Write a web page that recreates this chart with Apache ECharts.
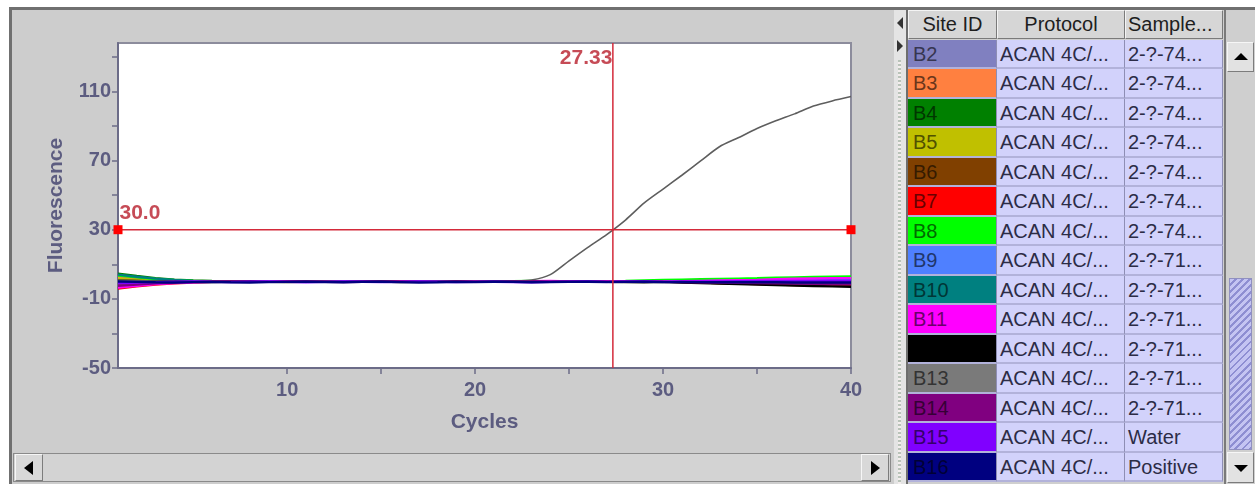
<!DOCTYPE html>
<html><head><meta charset="utf-8">
<script src="https://cdn.jsdelivr.net/npm/echarts@6/dist/echarts.min.js"></script>
<style>
html,body{margin:0;padding:0;background:#fff;width:1255px;height:484px;overflow:hidden;font-family:'Liberation Sans',Arial,sans-serif;}
#panel{position:absolute;left:9px;top:7px;width:885px;height:477px;background:#cdcdcd;border-left:3px solid #707070;border-top:3px solid #707070;box-sizing:border-box;}
#chart{position:absolute;left:0;top:0;width:894px;height:452px;}
#hscroll{position:absolute;left:13px;top:453px;width:878px;height:29px;background:#d3d3d3;border:1px solid #8a8a8a;box-sizing:border-box;}
.btn{position:absolute;background:#d8d8d8;border:1px solid;border-color:#f6f6f6 #7c7c7c #7c7c7c #f6f6f6;box-sizing:border-box;}
.tri{position:absolute;width:0;height:0;border-style:solid;}
#topline{position:absolute;left:894px;top:7px;width:361px;height:3px;background:#707070;}
#split{position:absolute;left:894px;top:10px;width:12px;height:474px;background:#e4e4e4;}
#dots{position:absolute;left:4px;top:50px;width:3px;height:424px;background:repeating-linear-gradient(to bottom,#b9c3b9 0 2px,#f4eeee 2px 4px);}
#table{position:absolute;left:906px;top:10px;width:318px;height:474px;background:#cfcfcf;border-left:2px solid #6e6e6e;box-sizing:border-box;}
.hdr{position:absolute;top:0;height:29px;background:#d6d6d6;border:1px solid;border-color:#f4f4f4 #7a7a7a #7a7a7a #f4f4f4;box-sizing:border-box;font-size:20px;line-height:27px;color:#1e1e1e;white-space:nowrap;overflow:hidden;}
.cell{position:absolute;height:29.5px;box-sizing:border-box;border-right:1px solid #8e8eb4;border-bottom:2px solid #b2b2da;font-size:20px;line-height:28px;white-space:nowrap;overflow:hidden;color:#2c2c46;background:#d2d2fb;}
#vscroll{position:absolute;left:1224px;top:10px;width:31px;height:474px;background:#cfcfcf;border-left:2px solid #7a7a7a;box-sizing:border-box;}
#thumb{position:absolute;left:3px;top:268px;width:23px;height:172px;background:repeating-linear-gradient(135deg,#c4c4f2 0 3px,#8e8ed2 3px 5px);border:1px solid #9090c0;box-sizing:border-box;}
</style>
</head>
<body>
<div id="panel"></div>
<div id="hscroll">
  <div class="btn" style="left:1px;top:0;width:28px;height:27px;"><div class="tri" style="left:8px;top:6px;border-width:7px 9px 7px 0;border-color:transparent #000 transparent transparent;"></div></div>
  <div class="btn" style="right:1px;top:0;width:28px;height:27px;"><div class="tri" style="left:9px;top:6px;border-width:7px 0 7px 9px;border-color:transparent transparent transparent #000;"></div></div>
</div>
<div id="chart"></div>
<div id="topline"></div>
<div id="split">
  <div class="tri" style="left:3px;top:7px;border-width:6px 6px 6px 0;border-color:transparent #333 transparent transparent;"></div>
  <div class="tri" style="left:3px;top:30px;border-width:6px 0 6px 6px;border-color:transparent transparent transparent #333;"></div>
  <div id="dots"></div>
</div>
<div id="table"></div>
<div id="vscroll">
  <div class="btn" style="left:1px;top:32px;width:27px;height:30px;background:#e2e2e2;"><div class="tri" style="left:6px;top:10px;border-width:0 7px 7px 7px;border-color:transparent transparent #000 transparent;"></div></div>
  <div id="thumb"></div>
  <div class="btn" style="left:1px;top:442px;width:27px;height:31px;background:#e2e2e2;"><div class="tri" style="left:6px;top:12px;border-width:7px 7px 0 7px;border-color:#000 transparent transparent transparent;"></div></div>
</div>
<script>
// ---------- data ----------
const cycles = [1,2,3,4,5,6,7,8,9,10,11,12,13,14,15,16,17,18,19,20,21,22,23,24,25,26,27,28,29,30,31,32,33,34,35,36,37,38,39,40];
const xTickValues = [10,15,20,25,30,35,40];
const xLabelValues = [10,20,30,40];
const yTickValues = [-50,-30,-10,10,30,50,70,90,110,130];
const yLabelValues = [-50,-10,30,70,110];
const threshold = 30.0;
const ctValue = 27.33;

const siteIds = ['B2','B3','B4','B5','B6','B7','B8','B9','B10','B11','B12','B13','B14','B15','B16'];
const protocols = ['ACAN 4C/...','ACAN 4C/...','ACAN 4C/...','ACAN 4C/...','ACAN 4C/...','ACAN 4C/...','ACAN 4C/...','ACAN 4C/...','ACAN 4C/...','ACAN 4C/...','ACAN 4C/...','ACAN 4C/...','ACAN 4C/...','ACAN 4C/...','ACAN 4C/...'];
const samples = ['2-?-74...','2-?-74...','2-?-74...','2-?-74...','2-?-74...','2-?-74...','2-?-74...','2-?-71...','2-?-71...','2-?-71...','2-?-71...','2-?-71...','2-?-71...','Water','Positive'];
const headers = ['Site ID','Protocol','Sample...'];

const b2  = [-1.5,-0.9,-0.4,-0.1,0.1,0.2,0.0,-0.1,0.1,0.2,0.0,-0.2,0.1,0.2,0.0,-0.1,0.1,0.0,-0.2,0.1,0.2,0.0,-0.1,0.1,0.2,0.0,-0.2,0.1,0.0,0.2,0.1,-0.1,0.0,0.3,0.5,0.7,0.9,1.1,1.3,1.5];
const b3  = [2.5,1.6,0.9,0.5,0.2,0.0,0.1,-0.1,0.0,0.2,0.1,-0.1,0.0,0.1,-0.2,0.0,0.1,0.2,0.0,-0.1,0.0,0.2,0.1,-0.1,0.0,0.1,-0.2,0.0,0.1,0.0,-0.3,-0.5,-0.8,-1.0,-1.3,-1.6,-1.9,-2.1,-2.3,-2.5];
const b4  = [4.5,3.2,2.0,1.1,0.6,0.3,0.1,0.0,0.2,-0.1,0.0,0.1,0.2,0.0,-0.1,0.1,0.0,-0.2,0.1,0.0,0.2,0.1,-0.1,0.0,0.1,-0.1,0.0,0.2,0.0,-0.1,-0.3,-0.6,-0.9,-1.1,-1.3,-1.5,-1.7,-1.8,-1.9,-2.0];
const b5  = [1.5,1.0,0.6,0.3,0.1,0.0,-0.1,0.1,0.2,0.0,-0.1,0.0,0.1,0.2,0.1,-0.1,0.0,0.1,0.0,0.2,0.1,-0.1,0.0,0.1,0.2,0.1,0.0,-0.1,0.0,0.2,0.4,0.6,0.8,1.0,1.3,1.6,1.9,2.1,2.3,2.5];
const b6  = [-2.0,-1.3,-0.8,-0.4,-0.2,0.0,0.1,0.0,-0.1,0.1,0.2,0.0,-0.1,0.0,0.1,0.2,0.0,-0.1,0.1,0.0,-0.1,0.0,0.1,0.2,0.0,-0.1,0.1,0.0,-0.2,0.0,-0.1,-0.2,-0.3,-0.4,-0.5,-0.6,-0.7,-0.8,-0.9,-1.0];
const b7  = [-4.0,-2.8,-1.8,-1.0,-0.5,-0.2,0.0,0.1,-0.1,0.0,0.1,0.2,0.0,-0.1,0.0,0.1,-0.1,0.0,0.2,0.1,0.0,-0.1,0.1,0.0,-0.2,0.0,0.1,0.0,-0.1,0.1,-0.2,-0.5,-0.8,-1.1,-1.4,-1.7,-2.0,-2.2,-2.4,-2.5];
const b8  = [3.5,2.4,1.5,0.8,0.4,0.2,0.0,0.1,0.0,-0.1,0.1,0.0,0.2,0.1,0.0,-0.1,0.2,0.1,0.0,0.1,0.0,0.2,0.3,0.1,0.0,0.2,0.1,0.3,0.6,0.9,1.1,1.3,1.5,1.7,1.9,2.2,2.4,2.6,2.8,3.0];
const b9  = [-3.0,-2.0,-1.2,-0.6,-0.3,-0.1,0.0,0.1,0.0,-0.1,0.0,0.2,0.1,0.0,-0.1,0.0,0.1,0.0,-0.2,0.0,0.1,0.0,0.2,0.1,0.0,-0.1,0.0,0.1,0.2,0.0,0.1,0.2,0.3,0.4,0.5,0.6,0.7,0.8,0.9,1.0];
const b10 = [4.0,2.8,1.7,0.9,0.4,0.1,0.0,-0.1,0.1,0.0,0.2,0.1,-0.1,0.0,0.1,0.0,-0.1,0.1,0.2,0.0,-0.1,0.0,0.1,0.0,-0.1,0.1,0.0,-0.2,0.0,-0.1,-0.2,-0.4,-0.6,-0.8,-1.0,-1.1,-1.2,-1.3,-1.4,-1.5];
const b11 = [-3.5,-2.4,-1.5,-0.8,-0.4,-0.1,0.0,0.1,0.0,0.2,0.1,0.0,-0.1,0.1,0.0,0.2,0.1,-0.1,0.0,0.1,0.0,-0.1,0.2,0.3,0.1,0.0,0.2,0.0,-0.1,0.1,0.2,0.4,0.6,0.8,1.0,1.3,1.6,1.8,1.9,2.0];
const b12 = [0.5,0.3,0.1,0.0,-0.2,-0.3,-0.1,0.0,-0.2,-0.3,-0.1,0.0,-0.2,-0.1,0.0,-0.3,-0.2,-0.1,0.0,-0.2,-0.1,0.0,-0.1,-0.2,0.0,-0.1,-0.2,-0.3,-0.4,-0.2,-0.5,-0.8,-1.1,-1.4,-1.7,-2.0,-2.3,-2.6,-2.8,-3.0];
const b13 = [0.8,0.5,0.3,0.1,0.0,0.1,0.0,-0.1,0.1,0.0,0.1,0.2,0.0,-0.1,0.1,0.0,0.1,0.2,0.0,0.1,0.2,0.3,0.9,4.0,12.0,19.8,27.2,35.6,45.5,53.5,61.5,69.8,78.0,83.2,88.5,93.0,97.0,101.5,104.5,107.0];
const b14 = [-2.5,-1.7,-1.0,-0.5,-0.2,0.0,0.1,-0.1,-0.2,0.0,0.1,-0.1,-0.3,-0.1,0.0,0.1,-0.1,-0.2,0.0,0.1,-0.1,0.0,0.1,-0.1,0.2,0.0,-0.1,0.1,0.0,-0.2,-0.3,-0.4,-0.5,-0.7,-0.8,-1.0,-1.1,-1.3,-1.4,-1.5];
const b15 = [-1.0,-0.6,-0.3,-0.1,0.0,-0.2,-0.3,-0.1,0.0,-0.2,-0.4,-0.2,0.0,-0.1,-0.3,-0.2,0.0,-0.1,-0.3,-0.2,-0.1,-0.3,-0.4,-0.2,-0.1,0.0,-0.2,-0.1,0.0,-0.2,-0.1,0.0,0.1,0.2,0.3,0.3,0.4,0.4,0.5,0.5];
const b16 = [0.0,-0.2,-0.4,-0.5,-0.3,-0.2,-0.4,-0.5,-0.3,-0.2,-0.1,-0.3,-0.4,-0.2,-0.1,-0.3,-0.5,-0.4,-0.2,-0.3,-0.1,-0.2,-0.4,-0.3,-0.2,-0.1,-0.3,-0.2,-0.1,-0.3,-0.2,-0.3,-0.4,-0.3,-0.4,-0.4,-0.5,-0.5,-0.5,-0.5];

// ---------- styles ----------
const siteColors = ['#8080c0','#ff8040','#008000','#c0c000','#804000','#ff0000','#00ff00','#4f80ff','#008080','#ff00ff','#000000','#7a7a7a','#800080','#8000ff','#000080'];
const seriesValues = [b2,b3,b4,b5,b6,b7,b8,b9,b10,b11,b12,b13,b14,b15,b16];

function darken(hex, f){
  const n = parseInt(hex.slice(1),16);
  const r = Math.round(((n>>16)&255)*f), g = Math.round(((n>>8)&255)*f), b = Math.round((n&255)*f);
  return 'rgb('+r+','+g+','+b+')';
}

// ---------- table ----------
const colX = [0,89,217], colW = [89,128,98];
const tbl = document.getElementById('table');
let h = '';
headers.forEach((t,i)=>{
  const align = i===2 ? 'left;padding-left:2px' : 'center';
  h += '<div class="hdr" style="left:'+colX[i]+'px;width:'+colW[i]+'px;text-align:'+align+'">'+t+'</div>';
});
siteIds.forEach((id,i)=>{
  const top = 29.5 + i*29.5;
  h += '<div class="cell" style="left:0;top:'+top+'px;width:'+colW[0]+'px;background:'+siteColors[i]+';color:'+darken(siteColors[i],0.42)+';padding-left:5px;">'+id+'</div>';
  h += '<div class="cell" style="left:'+colX[1]+'px;top:'+top+'px;width:'+colW[1]+'px;padding-left:3px;">'+protocols[i]+'</div>';
  h += '<div class="cell" style="left:'+colX[2]+'px;top:'+top+'px;width:'+colW[2]+'px;padding-left:3px;">'+samples[i]+'</div>';
});
tbl.innerHTML = h;

// ---------- chart ----------
const chart = echarts.init(document.getElementById('chart'), null, {renderer:'canvas'});
const axisColor = '#6c6c88';
const labelColor = '#5c5c80';
const redLine = '#d42a3a';
const redText = '#b81e2c';
const fontFam = 'Liberation Sans, Arial, sans-serif';

const series = seriesValues.map((vals,i)=>({
  name: siteIds[i],
  type: 'line',
  data: cycles.map((c,k)=>[c, vals[k]]),
  showSymbol: false,
  symbol: 'none',
  smooth: siteIds[i]==='B13' ? 0.25 : false,
  lineStyle: { color: siteIds[i]==='B13' ? '#5e5e5e' : siteColors[i], width: siteIds[i]==='B13' ? 1.6 : 2.4 },
  z: 3
}));

series.push({
  name: 'threshold', type: 'line',
  data: [[cycles[0], threshold], [cycles[cycles.length-1], threshold]],
  symbol: 'rect', symbolSize: 9,
  itemStyle: { color: '#ff0000' },
  lineStyle: { color: redLine, width: 1.5 },
  z: 5
});
series.push({
  name: 'ct', type: 'line',
  data: [[ctValue, -50], [ctValue, 138]],
  symbol: 'none',
  lineStyle: { color: redLine, width: 1.5 },
  z: 5
});
series.push({
  name: 'labels', type: 'scatter',
  symbolSize: 1,
  itemStyle: { color: 'rgba(0,0,0,0)' },
  data: [
    { value: [cycles[0], threshold], label: { show: true, position: 'right', offset: [-4, -16], formatter: threshold.toFixed(1) } },
    { value: [ctValue, 138], label: { show: true, position: 'left', offset: [5, 15], formatter: ctValue.toFixed(2) } }
  ],
  label: { color: redText, fontSize: 21, fontWeight: 'bold', fontFamily: fontFam },
  clip: false,
  z: 6
});

chart.setOption({
  animation: false,
  backgroundColor: 'transparent',
  grid: { left: 118, top: 43, width: 733, height: 325, show: true, backgroundColor: '#ffffff', borderColor: '#8c8c9c', borderWidth: 2, outerBoundsMode: 'none', containLabel: false },
  xAxis: {
    type: 'value', min: 1, max: 40,
    name: 'Cycles', nameLocation: 'middle', nameGap: 44,
    nameTextStyle: { color: labelColor, fontSize: 21, fontWeight: 'bold', fontFamily: fontFam },
    axisLine: { show: true, onZero: false, lineStyle: { color: axisColor, width: 2 } },
    axisTick: { show: true, length: 6, customValues: xTickValues, lineStyle: { color: axisColor, width: 1.5 } },
    axisLabel: { customValues: xLabelValues, color: labelColor, fontSize: 20, fontWeight: 'bold', fontFamily: fontFam, margin: 12 },
    splitLine: { show: false }
  },
  yAxis: {
    type: 'value', min: -50, max: 138,
    name: 'Fluorescence', nameLocation: 'middle', nameGap: 51, nameRotate: 90,
    nameTextStyle: { color: labelColor, fontSize: 21, fontWeight: 'bold', fontFamily: fontFam },
    axisLine: { show: true, onZero: false, lineStyle: { color: axisColor, width: 2 } },
    axisTick: { show: true, length: 6, customValues: yTickValues, lineStyle: { color: axisColor, width: 1.5 } },
    axisLabel: { customValues: yLabelValues, color: labelColor, fontSize: 20, fontWeight: 'bold', fontFamily: fontFam, margin: 7 },
    splitLine: { show: false }
  },
  series: series
});
</script>
</body></html>
